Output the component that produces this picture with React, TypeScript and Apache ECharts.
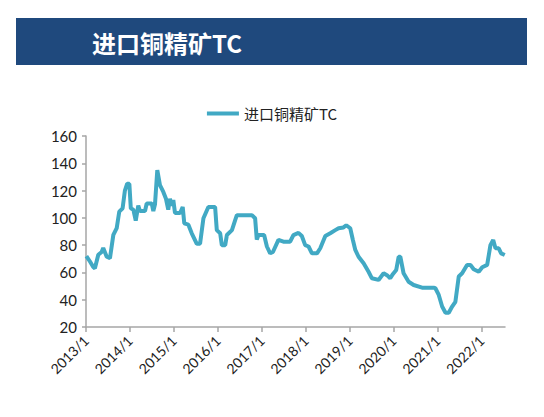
import React, { useEffect, useRef } from "react";
import * as echarts from "echarts";

// 日期与进口铜精矿TC（美元/吨）
const dates = [
  "2013-01-04", "2013-02-03", "2013-03-02", "2013-03-16", "2013-04-13", "2013-05-11", "2013-05-24",
  "2013-06-22", "2013-07-19", "2013-08-16", "2013-09-13", "2013-10-04", "2013-11-01", "2013-11-20",
  "2013-12-09", "2013-12-27", "2014-01-08", "2014-01-29", "2014-02-18", "2014-03-11", "2014-03-25",
  "2014-05-06", "2014-05-20", "2014-07-01", "2014-07-14", "2014-07-28", "2014-08-16", "2014-09-07",
  "2014-10-05", "2014-10-27", "2014-11-15", "2014-11-29", "2014-12-13", "2014-12-27", "2015-01-10",
  "2015-02-21", "2015-03-15", "2015-03-28", "2015-05-01", "2015-05-29", "2015-07-10", "2015-08-06",
  "2015-09-03", "2015-10-14", "2015-12-09", "2015-12-23", "2016-01-20", "2016-02-03", "2016-03-02",
  "2016-03-16", "2016-04-27", "2016-05-24", "2016-06-07", "2016-10-10", "2016-11-06", "2016-11-20",
  "2016-12-04", "2017-01-20", "2017-02-12", "2017-03-11", "2017-04-03", "2017-05-19", "2017-06-29",
  "2017-08-24", "2017-09-20", "2017-11-01", "2017-11-29", "2017-12-27", "2018-01-24", "2018-02-21",
  "2018-04-04", "2018-05-01", "2018-06-12", "2018-07-23", "2018-09-03", "2018-09-30", "2018-11-10",
  "2018-12-03", "2019-01-05", "2019-01-27", "2019-02-16", "2019-03-15", "2019-04-26", "2019-06-06",
  "2019-07-04", "2019-08-28", "2019-10-09", "2019-11-06", "2019-12-03", "2019-12-26", "2020-01-22",
  "2020-02-11", "2020-02-25", "2020-03-23", "2020-05-04", "2020-06-15", "2020-08-24", "2020-11-28",
  "2020-12-13", "2021-01-10", "2021-02-07", "2021-03-07", "2021-04-03", "2021-05-01", "2021-05-28",
  "2021-06-25", "2021-07-23", "2021-09-02", "2021-09-30", "2021-10-27", "2021-12-08", "2022-01-06",
  "2022-02-16", "2022-03-15", "2022-04-07", "2022-04-26", "2022-05-23", "2022-06-12", "2022-07-12",
];

const tcValues = [
  72, 68, 64, 63, 73, 75, 78,
  71.5, 70.5, 87.5, 92.5, 104.5, 107, 120,
  125, 125, 107, 106, 98, 109, 105,
  105, 110.5, 110.5, 105, 110, 135, 124,
  119, 114, 106, 114, 109, 113, 103.5,
  103.5, 108, 96, 95, 88.7, 81, 81,
  99.7, 108, 108, 91, 88.7, 80, 80,
  87.4, 91, 98.4, 102, 102, 99.7, 84,
  87.4, 87.4, 79, 74, 75, 83.8, 82.5,
  82.5, 87.4, 89, 86.7, 80, 79, 74,
  74, 77.7, 86.7, 88.7, 91, 92.4, 93,
  94.6, 92.4, 83.8, 76.5, 71.5, 66.7, 60.5,
  55.7, 54.5, 59.4, 58, 55.7, 58.9, 61.8,
  71.5, 71.5, 59.4, 53.2, 50.8, 48.8, 48.8,
  48.4, 43.5, 35, 30.5, 30.5, 35, 38.5,
  57, 59.4, 65.5, 65.5, 62.3, 60.5, 63.8,
  65.5, 80, 83.8, 77.7, 77.7, 74, 72.8,
];

const yearTicks = [2013, 2014, 2015, 2016, 2017, 2018, 2019, 2020, 2021, 2022];

const seriesName = "进口铜精矿TC";
const titleText = "进口铜精矿TC";

// 日期转为小数年份
const toYear = (d: string) => {
  const t = new Date(d + "T00:00:00Z").getTime();
  const y = new Date(d + "T00:00:00Z").getUTCFullYear();
  const start = Date.UTC(y, 0, 1);
  const end = Date.UTC(y + 1, 0, 1);
  return y + (t - start) / (end - start);
};

const App: React.FC = () => {
  const chartRef = useRef<HTMLDivElement>(null);

  useEffect(() => {
    const chart = echarts.init(chartRef.current, null, { renderer: "svg" });
    const lineData = dates.map((d, i) => [toYear(d), tcValues[i]]);

    const option: echarts.EChartsOption = {
      animation: false,
      backgroundColor: "#ffffff",
      graphic: [
        {
          type: "rect",
          shape: { x: 16, y: 18, width: 511, height: 47 },
          style: { fill: "#1f497d" },
        },
        {
          type: "text",
          x: 92,
          y: 42,
          style: {
            text: titleText,
            fill: "#ffffff",
            font: 'bold 24px "Noto Sans CJK SC"',
            textVerticalAlign: "middle",
          },
        },
      ],
      legend: {
        top: 101,
        left: "center",
        data: [seriesName],
        icon: "rect",
        itemWidth: 32,
        itemHeight: 4,
        textStyle: { fontSize: 15, color: "#222", fontFamily: "Noto Sans CJK SC" },
      },
      grid: { left: 86, right: 39, top: 136, bottom: 90 },
      xAxis: {
        type: "value",
        min: 2013,
        max: toYear("2022-07-14"),
        interval: 1,
        splitLine: { show: false },
        axisLine: { lineStyle: { color: "#a6a6a6", width: 1.5 } },
        axisTick: {
          show: true,
          length: 5,
          customValues: yearTicks,
          lineStyle: { color: "#a6a6a6", width: 1.5 },
        },
        axisLabel: {
          rotate: 45,
          customValues: yearTicks,
          formatter: (v: number) => `${Math.round(v)}/1`,
          fontSize: 14,
          color: "#222",
          fontFamily: "Lato",
          margin: 11,
        },
      },
      yAxis: {
        type: "value",
        min: 20,
        max: 160,
        interval: 20,
        splitLine: { show: false },
        axisLine: { show: true, lineStyle: { color: "#a6a6a6", width: 1.5 } },
        axisTick: { show: true, length: 4, lineStyle: { color: "#a6a6a6", width: 1.5 } },
        axisLabel: { fontSize: 15, color: "#222", fontFamily: "Lato", margin: 9 },
      },
      series: [
        {
          name: seriesName,
          type: "line",
          data: lineData,
          showSymbol: false,
          symbol: "none",
          lineStyle: { color: "#41a9c4", width: 4 },
          itemStyle: { color: "#41a9c4" },
        },
      ],
    };

    chart.setOption(option);
    return () => {
      chart.dispose();
    };
  }, []);

  return (
    <div
      ref={chartRef}
      style={{ position: "absolute", left: 0, top: 0, width: 544, height: 417 }}
    />
  );
};

export default App;
